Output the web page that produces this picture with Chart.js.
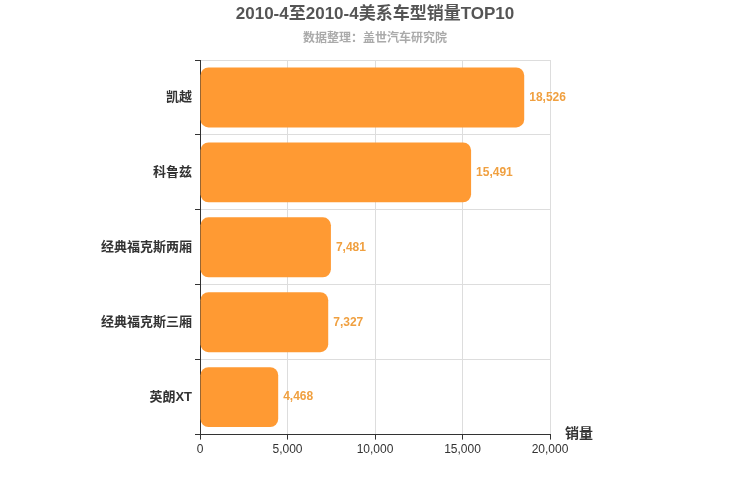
<!DOCTYPE html>
<html><head><meta charset="utf-8">
<script src="https://cdn.jsdelivr.net/npm/chart.js@4"></script>
<style>body{margin:0;background:#fff}#wrap{width:750px;height:500px}</style>
</head><body><div id="wrap"><canvas id="c" width="750" height="500"></canvas></div>
<script>
const categories = ["凯越", "科鲁兹", "经典福克斯两厢", "经典福克斯三厢", "英朗XT"];
const sales = [18526, 15491, 7481, 7327, 4468];
const xTicks = [0, 5000, 10000, 15000, 20000];

const font = "'Liberation Sans', 'Noto Sans CJK SC', sans-serif";

const labelPlugin = {
  id: "labels",
  afterDatasetsDraw(chart) {
    const ctx = chart.ctx;
    const meta = chart.getDatasetMeta(0);
    ctx.save();
    ctx.font = "bold 12px " + font;
    ctx.fillStyle = "#f0a040";
    ctx.textBaseline = "middle";
    meta.data.forEach((bar, i) => {
      ctx.fillText(sales[i].toLocaleString("en-US"), bar.x + 5, bar.y);
    });
    ctx.font = "bold 14px " + font;
    ctx.fillStyle = "#333";
    ctx.fillText("销量", chart.chartArea.right + 15, chart.chartArea.bottom);
    // titles centred on the page
    ctx.textAlign = "center";
    ctx.textBaseline = "middle";
    ctx.font = "bold 17px " + font;
    ctx.fillStyle = "#555";
    ctx.fillText("2010-4至2010-4美系车型销量TOP10", 375, 14);
    ctx.font = "bold 12px " + font;
    ctx.fillStyle = "#aaa";
    ctx.fillText("数据整理：盖世汽车研究院", 375, 39);
    ctx.restore();
  }
};

new Chart(document.getElementById("c"), {
  type: "bar",
  data: {
    labels: categories,
    datasets: [{
      data: sales,
      backgroundColor: "#ff9a33",
      borderRadius: 8,
      borderSkipped: false,
      categoryPercentage: 0.8,
      barPercentage: 1
    }]
  },
  options: {
    indexAxis: "y",
    responsive: false,
    animation: false,
    layout: { padding: { left: 0, right: 200, top: 60, bottom: 40 } },
    plugins: { legend: { display: false }, tooltip: { enabled: false } },
    scales: {
      x: {
        min: 0, max: 20000,
        afterBuildTicks: s => { s.ticks = xTicks.map(v => ({ value: v })); },
        ticks: { color: "#333", font: { size: 12, family: font }, callback: v => v.toLocaleString("en-US") },
        grid: { color: "#ddd", tickColor: "#333", tickLength: 5 },
        border: { color: "#333" }
      },
      y: {
        afterFit: s => { s.width = 200; },
        ticks: { color: "#333", font: { size: 13, weight: "bold", family: font } },
        grid: { color: "#ddd", offset: true, tickColor: "#333", tickLength: 5 },
        border: { color: "#333" }
      }
    }
  },
  plugins: [labelPlugin]
});
</script></body></html>
